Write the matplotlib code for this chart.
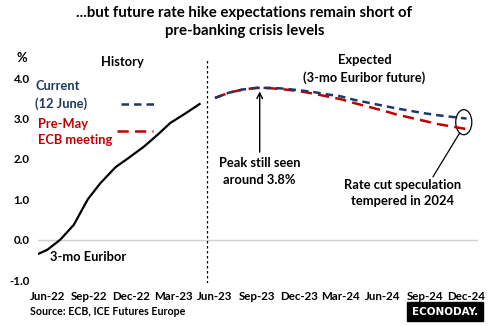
import matplotlib
matplotlib.use('Agg')
import matplotlib.pyplot as plt
from matplotlib.patches import Ellipse

plt.rcParams['font.family'] = ['Lato', 'DejaVu Sans']
plt.rcParams['font.weight'] = 'bold'

# month index: Jun-22 = 0
tick_pos = [0, 3, 6, 9, 12, 15, 18, 21, 24, 27, 30]
tick_labels = ['Jun-22', 'Sep-22', 'Dec-22', 'Mar-23', 'Jun-23', 'Sep-23',
               'Dec-23', 'Mar-24', 'Jun-24', 'Sep-24', 'Dec-24']

hist_x = [-0.64, 0, 0.93, 1.9, 2.9, 3.8, 4.9, 5.8, 6.9, 7.9, 8.8, 9.9, 10.9]
hist_y = [-0.35, -0.25, 0.0, 0.37, 1.0, 1.4, 1.8, 2.02, 2.3, 2.6, 2.89, 3.13, 3.36]

fut_x = list(range(12, 31))
current = [3.51, 3.64, 3.72, 3.76, 3.76, 3.74, 3.70, 3.66, 3.60, 3.55,
           3.46, 3.39, 3.32, 3.25, 3.19, 3.13, 3.08, 3.04, 3.00]
pre_may = [3.51, 3.64, 3.72, 3.76, 3.75, 3.72, 3.68, 3.62, 3.55, 3.48,
           3.38, 3.29, 3.20, 3.10, 3.02, 2.94, 2.86, 2.80, 2.74]

navy = '#1F3864'
red = '#C00000'
fs = 9.3

fig = plt.figure(figsize=(4.89, 3.26), dpi=100)
ax = fig.add_axes([0.078, 0.132, 0.899, 0.684])

ax.plot(hist_x, hist_y, color='black', lw=1.6)
ax.plot(fut_x, pre_may, color=red, lw=1.8, dashes=(4.5, 2.5))
ax.plot(fut_x, current, color=navy, lw=1.8, dashes=(3, 2))

ax.axhline(0, color='#D0D0D0', lw=1, zorder=0)
ax.axvline(11.4, color='black', lw=0.9, ls=(0, (2, 2)))

ax.set_xlim(-0.65, 30.8)
ax.set_ylim(-1.07, 4.45)
ax.set_yticks([-1, 0, 1, 2, 3, 4])
ax.set_yticklabels(['-1.0', '0.0', '1.0', '2.0', '3.0', '4.0'])
ax.set_xticks(tick_pos)
ax.set_xticklabels(tick_labels)
ax.tick_params(length=0, labelsize=8.3, pad=6)
for s in ax.spines.values():
    s.set_visible(False)

# legend-like labels
ax.text(-0.85, 3.58, 'Current\n(12 June)', color=navy, fontsize=fs,
        fontweight='bold', va='center', linespacing=1.45)
ax.plot([5.3, 7.9], [3.36, 3.36], color=navy, lw=1.8, dashes=(3, 2))
ax.text(-0.64, 2.67, 'Pre-May\nECB meeting', color=red, fontsize=fs,
        fontweight='bold', va='center', linespacing=1.45)
ax.plot([5.0, 7.6], [2.69, 2.69], color=red, lw=1.8, dashes=(4.5, 2.5))

ax.text(5.4, 4.39, 'History', fontsize=fs, fontweight='bold', ha='center', va='center')
ax.text(-1.8, 4.5, '%', fontsize=fs, fontweight='bold', ha='center', va='center')
ax.text(22.7, 4.23, 'Expected\n(3-mo Euribor future)', fontsize=fs,
        fontweight='bold', ha='center', va='center', linespacing=1.45)
ax.text(0.2, -0.42, '3-mo Euribor', fontsize=fs, fontweight='bold', va='center')

ax.annotate('', xy=(15.2, 3.74), xytext=(15.2, 2.1),
            arrowprops=dict(arrowstyle='->', color='black', lw=1))
ax.text(15.2, 1.69, 'Peak still seen\naround 3.8%', fontsize=fs,
        fontweight='bold', ha='center', va='center', linespacing=1.45)

ax.add_patch(Ellipse((29.8, 2.91), 1.15, 0.62, fill=False, ec='black', lw=0.9))
ax.plot([27.6, 29.5], [1.56, 2.64], color='black', lw=0.9)
ax.text(25.4, 1.16, 'Rate cut speculation\ntempered in 2024', fontsize=fs,
        fontweight='bold', ha='center', va='center', linespacing=1.45)

fig.text(0.5, 0.932, '...but future rate hike expectations remain short of\npre-banking crisis levels',
         fontsize=10.8, fontweight='bold', ha='center', va='center', linespacing=1.4)
fig.text(0.061, 0.046, 'Source: ECB, ICE Futures Europe', fontsize=7.7,
         fontweight='bold', va='center')
fig.text(0.91, 0.044, 'ECONODAY.', fontsize=7.5, fontweight='heavy', color='white',
         family='DejaVu Sans', ha='center', va='center',
         bbox=dict(boxstyle='square,pad=0.45', fc='black', ec='black'))

fig.savefig('out.png', dpi=100)
